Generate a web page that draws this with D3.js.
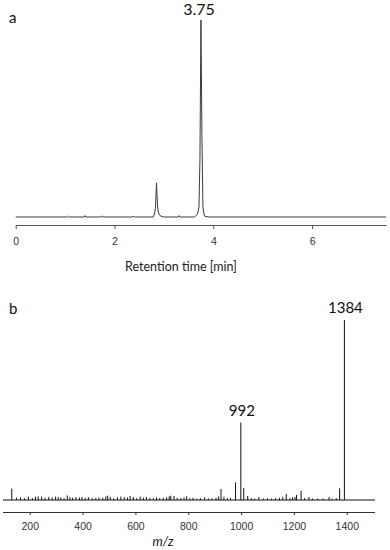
<!DOCTYPE html>
<html>
<head>
<meta charset="utf-8">
<script src="https://cdn.jsdelivr.net/npm/d3@7"></script>
<style>
  body { margin: 0; background: #fff; }
  svg { display: block; }
</style>
</head>
<body>
<script>
// chromatogram (a): retention time [min] and relative intensity
const rt_time = [0, 1.03, 1.05, 1.07, 1.38, 1.40, 1.42, 1.72, 1.74, 1.76, 2.36, 2.38, 2.40,
    2.78, 2.81, 2.83, 2.85, 2.87, 2.89, 2.93, 3.00, 3.29, 3.31, 3.33,
    3.62, 3.68, 3.71, 3.73, 3.75, 3.77, 3.79, 3.82, 3.90, 7.5];
const rt_signal = [0, 0, 0.4, 0, 0, 0.7, 0, 0, 0.6, 0, 0, 0.5, 0,
    0, 1.5, 5, 17.3, 6, 2, 0.5, 0, 0, 0.7, 0,
    0, 1.5, 5, 30, 100, 40, 5, 0.5, 0, 0];
const rt_ticks = [0, 2, 4, 6];
const rt_label = "3.75";

// mass spectrum (b): m/z and relative intensity
const ms_mz = [132, 150, 165, 180, 195, 210, 222, 232, 245, 258, 272, 285, 298, 308, 318, 330,
    342, 352, 362, 375, 388, 398, 410, 422, 436, 450, 462, 476, 488, 495, 505, 518,
    532, 545, 558, 570, 580, 592, 605, 618, 630, 642, 655, 668, 680, 692, 705, 718,
    728, 734, 746, 758, 772, 784, 794, 806, 818, 832, 846, 862, 876, 890, 905, 915,
    924, 935, 948, 960, 979, 999, 1010, 1025, 1040, 1052, 1067, 1085, 1100, 1115, 1130,
    1145, 1158, 1171, 1185, 1195, 1204, 1210, 1227, 1240, 1257, 1270, 1290, 1310, 1333,
    1345, 1360, 1373, 1391];
const ms_int = [6.3, 1.2, 1.5, 1.0, 1.8, 1.0, 1.8, 2.0, 1.9, 1.2, 1.7, 1.4, 1.9, 1.6, 1.4, 1.0,
    2.5, 1.6, 1.2, 1.6, 1.4, 1.7, 1.2, 1.6, 1.0, 1.1, 1.4, 1.3, 2.0, 2.4, 1.8, 1.0,
    1.5, 1.9, 1.6, 1.4, 2.2, 1.7, 1.0, 1.9, 1.3, 1.6, 1.2, 1.0, 1.4, 1.0, 1.2, 1.5,
    2.0, 2.4, 2.2, 1.2, 1.0, 1.4, 2.0, 1.0, 1.2, 0.8, 1.0, 1.5, 0.9, 1.0, 1.2, 2.0,
    6.1, 1.8, 1.0, 1.2, 9.8, 43, 6.7, 2.2, 1.0, 0.8, 1.7, 0.8, 1.0, 0.8, 1.0,
    1.2, 1.8, 3.3, 1.0, 1.5, 1.7, 2.8, 5.2, 1.0, 1.7, 0.8, 0.8, 0.8, 1.7,
    0.8, 1.0, 6.5, 100];
const ms_ticks = [200, 400, 600, 800, 1000, 1200, 1400];
const ms_labels = [{mz: 999, int: 43, text: "992"}, {mz: 1391, int: 100, text: "1384"}];

const width = 390, height = 550;
const svg = d3.select("body").append("svg")
    .attr("width", width)
    .attr("height", height);

const label_font = "Lato, 'Open Sans', sans-serif";
const tick_font = "'Liberation Sans', Arial, sans-serif";

// ---- panel a ----
let xa = d3.scaleLinear().domain([0, 7.5]).range([15.7, 386.2]);
let ya = d3.scaleLinear().domain([0, 100]).range([217, 20]);

let line_a = d3.line()
    .x((d, i) => xa(rt_time[i]))
    .y((d, i) => ya(rt_signal[i]));

svg.append("path")
    .attr("d", line_a(rt_time))
    .attr("fill", "none")
    .attr("stroke", "#3a3a3a")
    .attr("stroke-width", 1);

let axis_a = svg.append("g")
    .attr("transform", "translate(0,225)")
    .call(d3.axisBottom(xa).tickValues(rt_ticks).tickSize(4).tickSizeOuter(0).tickPadding(9));
axis_a.select(".domain").attr("stroke", "#555");
axis_a.selectAll(".tick line").attr("stroke", "#555");
axis_a.selectAll("text")
    .style("font-family", tick_font)
    .style("font-size", "10.5px")
    .attr("fill", "#333");

svg.append("text")
    .attr("x", 181)
    .attr("y", 271)
    .attr("text-anchor", "middle")
    .style("font-family", label_font)
    .style("font-size", "12.5px")
    .attr("fill", "#222")
    .text("Retention time [min]");

svg.append("text")
    .attr("x", xa(3.75) - 2)
    .attr("y", 15)
    .attr("text-anchor", "middle")
    .style("font-family", label_font)
    .style("font-size", "16px")
    .attr("fill", "#111")
    .text(rt_label);

svg.append("text")
    .attr("x", 9)
    .attr("y", 23)
    .style("font-family", label_font)
    .style("font-size", "15px")
    .attr("fill", "#111")
    .text("a");

// ---- panel b ----
let xb = d3.scaleLinear().domain([100, 1500]).range([3.3, 373.2]);
let yb = d3.scaleLinear().domain([0, 100]).range([500, 320]);

// baseline of the spectrum
svg.append("line")
    .attr("x1", 3).attr("x2", 375)
    .attr("y1", yb(0)).attr("y2", yb(0))
    .attr("stroke", "#111")
    .attr("stroke-width", 1);

svg.append("g").selectAll("line")
    .data(ms_mz)
    .join("line")
    .attr("x1", d => xb(d)).attr("x2", d => xb(d))
    .attr("y1", yb(0))
    .attr("y2", (d, i) => yb(ms_int[i]))
    .attr("stroke", "#111")
    .attr("stroke-width", 1);

let axis_b = svg.append("g")
    .attr("transform", "translate(0,512)")
    .call(d3.axisBottom(xb).tickValues(ms_ticks).tickFormat(d3.format("d"))
        .tickSize(3).tickSizeOuter(0).tickPadding(8));
axis_b.select(".domain").attr("stroke", "#333").attr("d", "M3,0.5H375");
axis_b.selectAll(".tick line").attr("stroke", "#333");
axis_b.selectAll("text")
    .style("font-family", tick_font)
    .style("font-size", "10.5px")
    .attr("fill", "#333");

svg.append("text")
    .attr("x", 163)
    .attr("y", 546)
    .attr("text-anchor", "middle")
    .style("font-family", label_font)
    .style("font-size", "13px")
    .style("font-style", "italic")
    .attr("fill", "#222")
    .text("m/z");

svg.selectAll(".peak-label")
    .data(ms_labels)
    .join("text")
    .attr("class", "peak-label")
    .attr("x", d => xb(d.mz) + 1)
    .attr("y", d => yb(d.int) - 7)
    .attr("text-anchor", "middle")
    .style("font-family", label_font)
    .style("font-size", "15px")
    .attr("fill", "#111")
    .text(d => d.text);

svg.append("text")
    .attr("x", 9)
    .attr("y", 314)
    .style("font-family", label_font)
    .style("font-size", "15px")
    .attr("fill", "#111")
    .text("b");
</script>
</body>
</html>
